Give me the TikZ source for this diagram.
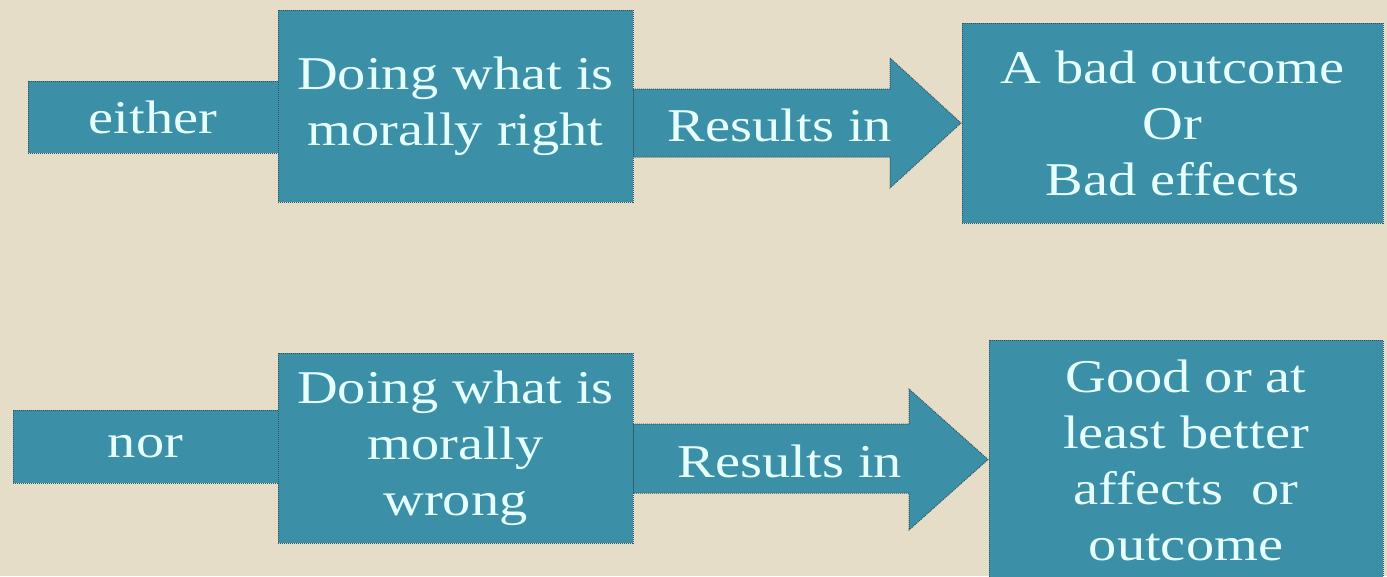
\documentclass[tikz,border=0pt]{standalone}
\usepackage{fontspec}
\setmainfont[FakeStretch=1.2]{Liberation Serif}
\definecolor{bgc}{RGB}{230,221,201}
\definecolor{tealfill}{RGB}{59,143,167}
\definecolor{edgec}{RGB}{55,85,95}
\definecolor{txtc}{RGB}{230,255,255}
\tikzset{
  shapebox/.style={fill=tealfill, draw=edgec, densely dotted, line width=1pt},
  boxnode/.style={shapebox, text=txtc, align=center, inner sep=0pt,
    font=\fontsize{47}{56}\selectfont},
  lbl/.style={text=txtc, align=center, inner sep=0pt, font=\fontsize{47}{56}\selectfont}
}
\begin{document}
\begin{tikzpicture}[x=1pt,y=-1pt]
\fill[bgc] (0,0) rectangle (1387,576);
\useasboundingbox (0,0) rectangle (1387,576);
\clip (0,0) rectangle (1387,576);
% row 1
\node[boxnode, minimum width=250pt, minimum height=72pt] (either) at (153,117) {either};
\draw[shapebox] (633,89) -- (890,89) -- (890,58) -- (961,123) -- (890,188) -- (890,157) -- (633,157) -- cycle;
\node[lbl] (res1) at (780,125) {Results in};
\node[boxnode, minimum width=355pt, minimum height=192pt] (right) at (455.5,106) {Doing what is\\morally right};
\node[boxnode, minimum width=421pt, minimum height=200pt] (bad) at (1172.5,123) {A bad outcome\\Or\\Bad effects};
% row 2
\node[boxnode, minimum width=265pt, minimum height=73pt] (nor) at (145.5,446.5) {nor};
\draw[shapebox] (633,424) -- (909,424) -- (909,389) -- (988,459.5) -- (909,530) -- (909,493) -- (633,493) -- cycle;
\node[lbl] (res2) at (790,461) {Results in};
\node[boxnode, minimum width=355pt, minimum height=190pt] (wrong) at (455.5,448) {Doing what is\\morally\\wrong};
\node[boxnode, minimum width=394pt, minimum height=240pt] (good) at (1186,460) {Good or at\\least better\\affects~~or\\outcome};
\end{tikzpicture}
\end{document}
